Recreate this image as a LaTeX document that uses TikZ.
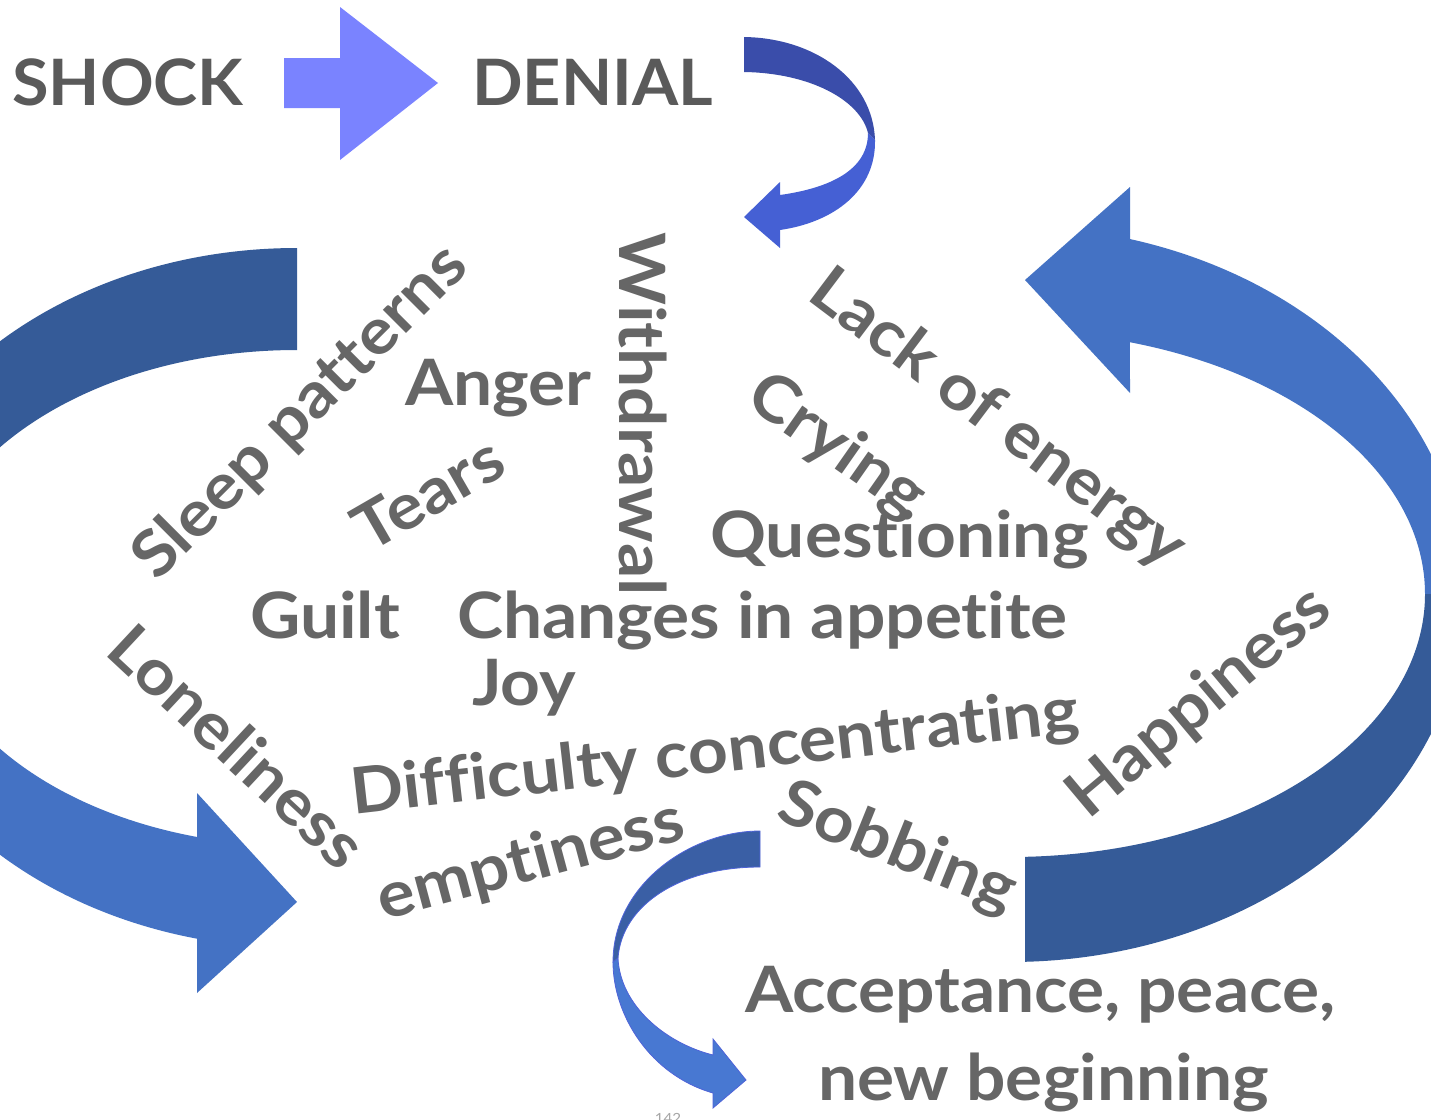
\documentclass[tikz,border=0pt]{standalone}
\usepackage{fontspec}
\setmainfont{Lato}[Ligatures=NoCommon, FakeStretch=1.085]
\newfontfamily\titlefamily{Lato}[Ligatures=NoCommon, FakeStretch=1.04]
\usetikzlibrary{calc}
\definecolor{wordgray}{HTML}{666666}
\definecolor{titlegray}{HTML}{5A5A5A}
\definecolor{periwinkle}{HTML}{7A83FF}
\definecolor{darkblue}{HTML}{355B98}
\definecolor{lightblue}{HTML}{4472C4}
\definecolor{navyarrow}{HTML}{3A4DAA}
\definecolor{royalarrow}{HTML}{4560D4}
\definecolor{smalldark}{HTML}{3A5FA5}
\definecolor{smalllight}{HTML}{4878D2}
\definecolor{edgeblue}{HTML}{4E63D8}
\newcommand\wordfont{\fontsize{64}{70}\selectfont\bfseries}
\newcommand\titlefont{\titlefamily\fontsize{64}{70}\selectfont\bfseries}
\begin{document}
\begin{tikzpicture}[x=1pt,y=-1pt,
  word/.style={font=\wordfont, text=wordgray, inner sep=0pt},
  title/.style={font=\titlefont, text=titlegray, inner sep=0pt}]
\useasboundingbox (0,0) rectangle (1431,1119);
\fill[white] (0,0) rectangle (1431,1119);

% straight block arrow SHOCK -> DENIAL
\fill[periwinkle] (284,58) -- (340,58) -- (340,7) -- (438,83) -- (340,160) -- (340,108) -- (284,108) -- cycle;

% small curved arrow after DENIAL
\fill[royalarrow] (875,140) .. controls (876,190) and (835,222) .. (780,230)
  -- (780,248) -- (744,217) -- (780,182) -- (780,195)
  .. controls (830,188) and (868,170) .. (868,133) -- cycle;
\fill[navyarrow] (744,37) .. controls (815,38) and (873,80) .. (875,140)
  -- (868,133) .. controls (860,100) and (810,73) .. (744,72) -- cycle;

% big left arrow
\fill[darkblue] (297,248) arc[start angle=270, end angle=180, x radius=437, y radius=350]
  -- (-77,598) arc[start angle=180, end angle=270, x radius=374, y radius=248] -- cycle;
\fill[lightblue] (-140,598) arc[start angle=180, end angle=103.2, x radius=437, y radius=350]
  -- (197,993) -- (297,902) -- (197,793)
  -- ($(297,598)+(105.5:374 and 248)$) arc[start angle=105.5, end angle=180, x radius=374, y radius=248] -- cycle;

% big right arrow
\fill[lightblue] ($(1010,594)+(0:455 and 368)$) arc[start angle=0, end angle=-74.7, x radius=455, y radius=368]
  -- (1130,187) -- (1025,280) -- (1130,393)
  -- ($(1010,594)+(-73.2:415 and 263)$) arc[start angle=-73.2, end angle=0, x radius=415, y radius=263] -- cycle;
\fill[darkblue] ($(1010,594)+(0:455 and 368)$) arc[start angle=0, end angle=88.1, x radius=455, y radius=368]
  -- ($(1010,594)+(87.9:415 and 263)$) arc[start angle=87.9, end angle=0, x radius=415, y radius=263] -- cycle;

% small bottom curved arrow
\fill[smalllight, draw=edgeblue, line width=0.8] (613,962) .. controls (613,1015) and (650,1075) .. (713,1093)
  -- (713,1108) -- (746,1080) -- (713,1039) -- (713,1055)
  .. controls (665,1043) and (620,1005) .. (618,958) -- cycle;
\fill[smalldark, draw=edgeblue, line width=0.8] (760,831) .. controls (690,831) and (613,885) .. (613,962)
  -- (618,958) .. controls (622,905) and (680,867) .. (760,867) -- cycle;

% words
\node[title, anchor=base west] (shock) at (12,105) {SHOCK};
\node[title, anchor=base west] (denial) at (472,105) {DENIAL};
\node[word, rotate=45] (sleep) at (301,413) {Sleep patterns};
\node[word, anchor=base west] (anger) at (405,405) {Anger};
\node[word, rotate=30] (tears) at (428,493) {Tears};
\node[word, rotate=-90] (withdrawal) at (643,414) {Withdrawal};
\node[word, rotate=-37] (lack) at (997,420) {Lack of energy};
\node[word, rotate=-35] (crying) at (836,447) {Crying};
\node[word, anchor=base west] (questioning) at (710,557) {Questioning};
\node[word, anchor=base west] (guilt) at (250,638) {Guilt};
\node[word, anchor=base west] (changes) at (457,638) {Changes in appetite};
\node[word, anchor=base west] (joy) at (472,705) {Joy};
\node[word, rotate=-43] (loneliness) at (238,746) {Loneliness};
\node[word, rotate=6.5] (difficulty) at (715,755) {Difficulty concentrating};
\node[word, rotate=15] (emptiness) at (531,862) {emptiness};
\node[word, rotate=-22] (sobbing) at (897,849) {Sobbing};
\node[word, rotate=40] (happiness) at (1200,703) {Happiness};
\node[word, anchor=base west] (acceptance) at (745,1012) {Acceptance, peace,};
\node[word, anchor=base west] (newbeginning) at (818,1100) {new beginning};
\node[font=\fontsize{14}{16}\selectfont, text=gray!70, inner sep=0pt, anchor=north] (pagenum) at (668,1113) {142};
\end{tikzpicture}
\end{document}
